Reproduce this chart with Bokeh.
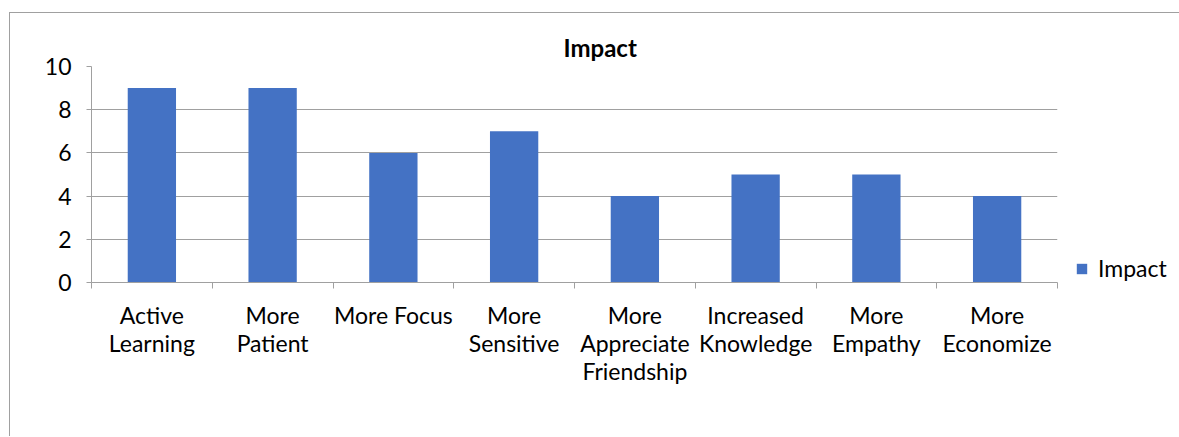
from bokeh.plotting import figure
from bokeh.models import Range1d, FixedTicker, Legend, LegendItem, ColumnDataSource
from bokeh.embed import file_html
from bokeh.resources import INLINE

categories = ["Active\nLearning", "More\nPatient", "More Focus", "More\nSensitive",
              "More\nAppreciate\nFriendship", "Increased\nKnowledge", "More\nEmpathy", "More\nEconomize"]
values = [9, 9, 6, 7, 4, 5, 5, 4]
y_ticks = [0, 2, 4, 6, 8, 10]
series_name = "Impact"

FONT = "Lato"
FS = "23px"
GRAY = "#A0A0A0"

n = len(categories)
centers = [i + 0.5 for i in range(n)]
bounds = list(range(n + 1))

src = ColumnDataSource(dict(x=centers, top=values))

p = figure(frame_width=966, frame_height=216, output_backend="svg", toolbar_location=None,
           x_range=Range1d(0, n), y_range=Range1d(0, 10),
           min_border_left=81, min_border_right=118, min_border_top=53, min_border_bottom=154)
p.styles = {"margin-left": "9px", "margin-top": "12px",
            "border-left": "1px solid #A0A0A0", "border-top": "1px solid #A0A0A0"}

r = p.vbar(x="x", top="top", width=0.4, bottom=0, source=src, fill_color="#4472C4", line_color=None)

p.title.text = "Impact"
p.title.align = "left"
p.title.offset = 472
p.title.text_font = FONT
p.title.text_font_size = "24px"
p.title.text_font_style = "bold"
p.title.text_color = "#000000"

p.outline_line_color = None
p.xgrid.grid_line_color = None
p.ygrid.grid_line_color = GRAY
p.ygrid.ticker = FixedTicker(ticks=y_ticks)

xa = p.xaxis[0]
xa.ticker = FixedTicker(ticks=centers, minor_ticks=bounds)
xa.major_label_overrides = {c: lab for c, lab in zip(centers, categories)}
xa.major_tick_line_color = None
xa.minor_tick_line_color = GRAY
xa.minor_tick_out = 6
xa.minor_tick_in = 0
xa.axis_line_color = GRAY
xa.major_label_text_font = FONT
xa.major_label_text_font_size = FS
xa.major_label_text_color = "#000000"
xa.major_label_text_line_height = 1.0
xa.major_label_standoff = 12

ya = p.yaxis[0]
ya.ticker = FixedTicker(ticks=y_ticks)
ya.major_tick_line_color = GRAY
ya.major_tick_out = 5
ya.major_tick_in = 0
ya.minor_tick_line_color = None
ya.axis_line_color = GRAY
ya.major_label_text_font = FONT
ya.major_label_text_font_size = FS
ya.major_label_text_color = "#000000"
ya.major_label_standoff = 15

legend = Legend(items=[LegendItem(label=series_name, renderers=[r])], location=(18, 0),
                glyph_width=13, glyph_height=13, label_standoff=10, padding=0, margin=0,
                border_line_color=None, background_fill_alpha=0,
                label_text_font=FONT, label_text_font_size=FS, label_text_color="#000000")
p.add_layout(legend, "right")

open("out.html", "w").write(file_html(p, INLINE))
